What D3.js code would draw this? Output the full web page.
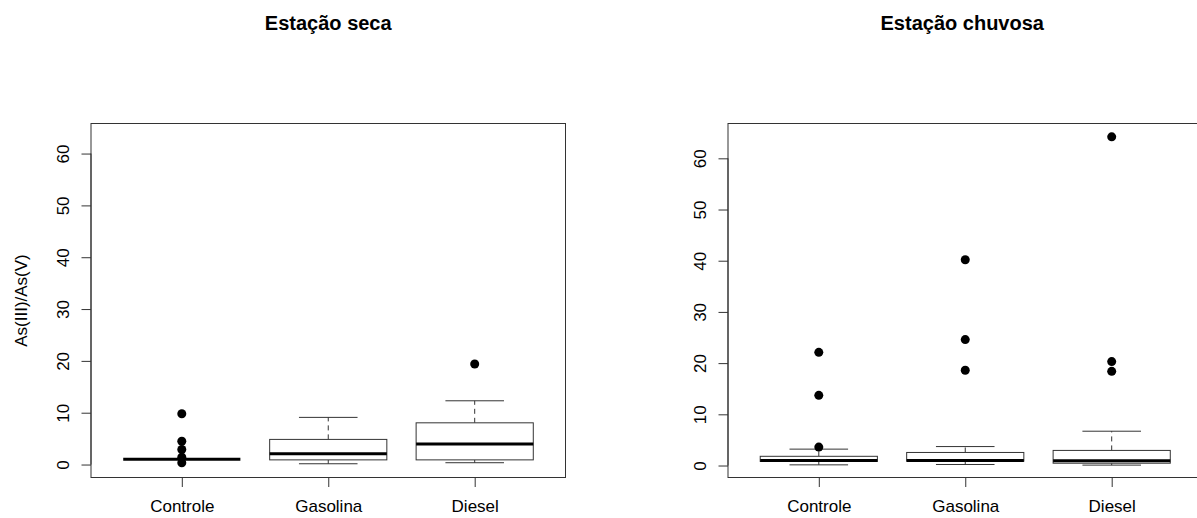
<!DOCTYPE html>
<html>
<head>
<meta charset="utf-8">
<script src="https://cdn.jsdelivr.net/npm/d3@7"></script>
<style>
  html, body { margin: 0; padding: 0; background: #fff; }
  svg { display: block; }
  text { font-family: "Liberation Sans", Arial, Helvetica, sans-serif; fill: #000; }
</style>
</head>
<body>
<script>
// ---------- data ----------
const categories = ["Controle", "Gasolina", "Diesel"];
const yTicks = [0, 10, 20, 30, 40, 50, 60];
const yLabel = "As(III)/As(V)";
const titles = ["Estação seca", "Estação chuvosa"];

// Estação seca
const secaWhiskerLow  = [1.0, 0.15, 0.35];
const secaQ1          = [1.0, 0.9, 0.9];
const secaMedian      = [1.0, 2.1, 3.95];
const secaQ3          = [1.0, 4.85, 8.05];
const secaWhiskerHigh = [1.0, 9.1, 12.3];
const secaOutliers    = [[9.8, 4.5, 2.9, 1.4, 0.35], [], [19.4]];

// Estação chuvosa
const chuvWhiskerLow  = [0.13, 0.2, 0.08];
const chuvQ1          = [0.8, 0.85, 0.45];
const chuvMedian      = [1.0, 1.0, 0.92];
const chuvQ3          = [1.8, 2.55, 2.95];
const chuvWhiskerHigh = [3.2, 3.7, 6.7];
const chuvOutliers    = [[22.1, 13.7, 3.6], [40.2, 24.6, 18.6], [64.2, 20.3, 18.4]];

// ---------- layout ----------
const W = 1197, H = 518;
const svg = d3.select("body").append("svg").attr("width", W).attr("height", H);

const panels = [
  { title: titles[0], left: 91, right: 565.5, yDomain: [-2.5, 65.8], showYLabel: true,
    lo: secaWhiskerLow, q1: secaQ1, med: secaMedian, q3: secaQ3, hi: secaWhiskerHigh, out: secaOutliers },
  { title: titles[1], left: 728, right: 1202.5, yDomain: [-2.34, 66.8], showYLabel: false,
    lo: chuvWhiskerLow, q1: chuvQ1, med: chuvMedian, q3: chuvQ3, hi: chuvWhiskerHigh, out: chuvOutliers }
];
const plotTop = 123.5, plotBottom = 477.5;
const lineCol = "#333";
const labelSize = "17px";

panels.forEach(p => {
  const g = svg.append("g");
  const x = d3.scaleLinear().domain([0.38, 3.62]).range([p.left, p.right]);
  const y = d3.scaleLinear().domain(p.yDomain).range([plotBottom, plotTop]);
  const step = x(2) - x(1);
  const boxW = step * 0.8;
  const capW = boxW * 0.5;

  // frame
  g.append("rect")
    .attr("x", p.left).attr("y", plotTop)
    .attr("width", p.right - p.left).attr("height", plotBottom - plotTop)
    .attr("fill", "none").attr("stroke", lineCol).attr("stroke-width", 1);

  // y axis
  const yAxis = d3.axisLeft(y).tickValues(yTicks).tickSize(9.5).tickPadding(0).tickFormat(d3.format("d"));
  const ya = g.append("g").attr("transform", `translate(${p.left},0)`).call(yAxis);
  ya.select(".domain").attr("d", `M0,${y(0)}V${y(60)}`).attr("stroke", lineCol);
  ya.selectAll(".tick line").attr("stroke", lineCol);
  ya.selectAll(".tick text")
    .attr("x", 0).attr("dy", null)
    .attr("transform", "translate(-28,0) rotate(-90)")
    .attr("text-anchor", "middle")
    .attr("dominant-baseline", "central")
    .style("font-size", labelSize)
    .style("font-family", "'Liberation Sans', Arial, sans-serif");

  // x axis
  const xAxis = d3.axisBottom(x).tickValues([1, 2, 3]).tickSize(9.5).tickPadding(0)
    .tickFormat((d) => categories[d - 1]);
  const xa = g.append("g").attr("transform", `translate(0,${plotBottom})`).call(xAxis);
  xa.select(".domain").attr("d", `M${x(1)},0H${x(3)}`).attr("stroke", lineCol);
  xa.selectAll(".tick line").attr("stroke", lineCol);
  xa.selectAll(".tick text")
    .attr("y", 29).attr("dy", null)
    .attr("dominant-baseline", "central")
    .style("font-size", labelSize)
    .style("font-family", "'Liberation Sans', Arial, sans-serif");

  // title
  g.append("text")
    .attr("x", (p.left + p.right) / 2 + (p.showYLabel ? 0 : -3))
    .attr("y", 23)
    .attr("text-anchor", "middle")
    .attr("dominant-baseline", "central")
    .style("font-size", "20px")
    .style("font-weight", "bold")
    .text(p.title);

  if (p.showYLabel) {
    g.append("text")
      .attr("transform", `translate(21,${(plotTop + plotBottom) / 2}) rotate(-90)`)
      .attr("text-anchor", "middle")
      .attr("dominant-baseline", "central")
      .style("font-size", labelSize)
      .text(yLabel);
  }

  // boxes
  categories.forEach((c, i) => {
    const cx = x(i + 1);
    const bg = g.append("g");
    bg.append("line").attr("x1", cx).attr("x2", cx).attr("y1", y(p.q3[i])).attr("y2", y(p.hi[i]))
      .attr("stroke", lineCol).attr("stroke-dasharray", "5,4");
    bg.append("line").attr("x1", cx).attr("x2", cx).attr("y1", y(p.q1[i])).attr("y2", y(p.lo[i]))
      .attr("stroke", lineCol).attr("stroke-dasharray", "5,4");
    bg.append("line").attr("x1", cx - capW / 2).attr("x2", cx + capW / 2)
      .attr("y1", y(p.hi[i])).attr("y2", y(p.hi[i])).attr("stroke", lineCol);
    bg.append("line").attr("x1", cx - capW / 2).attr("x2", cx + capW / 2)
      .attr("y1", y(p.lo[i])).attr("y2", y(p.lo[i])).attr("stroke", lineCol);
    bg.append("rect")
      .attr("x", cx - boxW / 2).attr("y", y(p.q3[i]))
      .attr("width", boxW).attr("height", Math.max(0, y(p.q1[i]) - y(p.q3[i])))
      .attr("fill", "#fff").attr("stroke", lineCol).attr("stroke-width", 1);
    bg.append("line").attr("x1", cx - boxW / 2).attr("x2", cx + boxW / 2)
      .attr("y1", y(p.med[i])).attr("y2", y(p.med[i]))
      .attr("stroke", "#000").attr("stroke-width", 3);
    bg.selectAll("circle").data(p.out[i]).enter().append("circle")
      .attr("cx", cx).attr("cy", d => y(d)).attr("r", 4.5).attr("fill", "#000");
  });
});
</script>
</body>
</html>
